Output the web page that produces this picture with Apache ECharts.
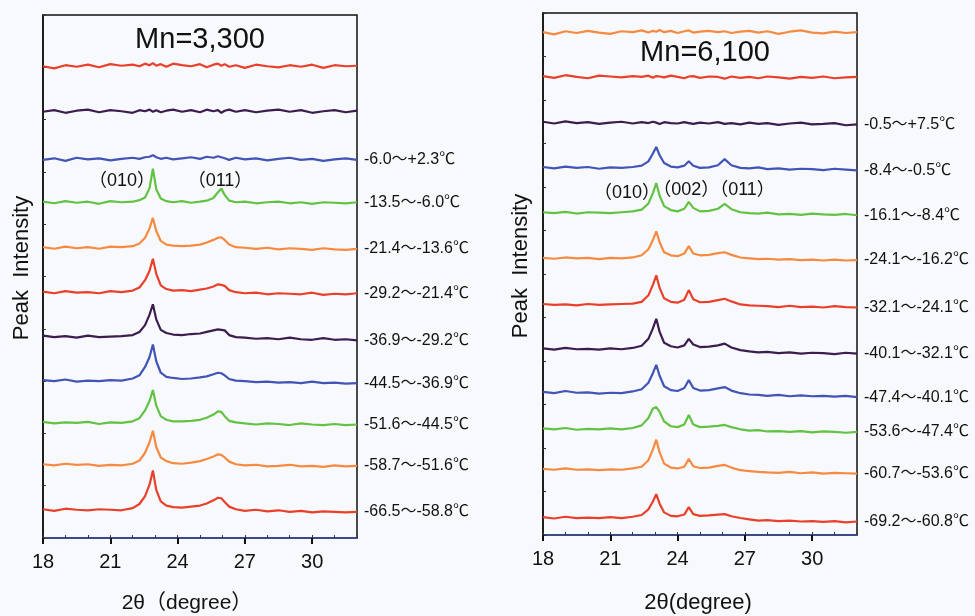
<!DOCTYPE html>
<html>
<head>
<meta charset="utf-8">
<title>Peak Intensity vs 2theta</title>
<script src="https://cdn.jsdelivr.net/npm/echarts@6/dist/echarts.min.js"></script>
<style>
  html, body { margin: 0; padding: 0; background: #f7f9fc; }
  #chart { width: 975px; height: 616px; }
</style>
</head>
<body>
<div id="chart"></div>
<script>
// 2theta sample positions (degree)
var xLeft = [18, 18.5, 19, 19.5, 20, 20.5, 21, 21.5, 22,
  22.3, 22.55, 22.75, 22.9, 23.05, 23.25, 23.5, 23.8,
  24.2, 24.6, 25, 25.3, 25.6, 25.8, 25.95, 26.1, 26.3, 26.6,
  27, 27.5, 28, 28.5, 29, 29.5, 30, 30.5, 31, 31.5, 32];
var xRight = [18, 18.5, 19, 19.5, 20, 20.5, 21, 21.5, 22,
  22.4, 22.7, 22.9, 23.05, 23.2, 23.4, 23.7,
  24.0, 24.3, 24.5, 24.7, 25.0, 25.4,
  25.8, 26.1, 26.4, 26.8,
  27.2, 27.6, 28, 28.5, 29, 29.5, 30, 30.5, 31, 31.5, 32];

var xTicks = [18, 21, 24, 27, 30];

// stacking offsets of each trace (a.u.), top to bottom
var offsetLeft = [90.1, 81.5, 72.3, 64.1, 55.3, 46.7, 38.2, 29.8, 21.8, 13.8, 5.2];
var offsetRight = [115.4, 105.1, 94.5, 84.1, 73.8, 63.4, 52.6, 42.1, 32.2, 23.9, 14.5, 3.4];

var labelLeft = ['', '', '-6.0～+2.3℃', '-13.5～-6.0℃', '-21.4～-13.6℃', '-29.2～-21.4℃',
  '-36.9～-29.2℃', '-44.5～-36.9℃', '-51.6～-44.5℃', '-58.7～-51.6℃', '-66.5～-58.8℃'];
var labelRight = ['', '', '-0.5～+7.5℃', '-8.4～-0.5℃', '-16.1～-8.4℃', '-24.1～-16.2℃',
  '-32.1～-24.1℃', '-40.1～-32.1℃', '-47.4～-40.1℃', '-53.6～-47.4℃', '-60.7～-53.6℃', '-69.2～-60.8℃'];

// Mn=3,300 traces: intensity above baseline
var mn3300_1 = [0.1,-0.3,0.3,0.0,0.4,-0.1,0.5,0.2,0.4, 0.1,0.6,0.3,0.7,0.2,0.5,0.0,0.6, 0.3,0.1,0.5,-0.1,0.4,0.6,0.2,0.5,0.0,0.3, -0.2,0.4,0.1,-0.1,0.3,0.0,0.4,-0.2,0.3,0.1,0.2];
var mn3300_2 = [0.0,0.3,-0.2,0.2,0.4,-0.1,0.3,0.1,-0.2, 0.3,0.1,0.4,0.0,0.3,-0.1,0.2,0.4, 0.0,0.3,-0.1,0.4,0.1,0.3,-0.2,0.2,0.4,0.0, 0.3,-0.1,0.2,0.4,0.0,0.3,-0.2,0.1,0.3,-0.1,0.2];
var mn3300_3 = [0.0,0.3,-0.2,0.4,0.1,0.3,-0.1,0.2,0.4, 0.2,0.5,0.6,0.9,0.5,0.2,0.4,0.1, 0.3,0.5,0.2,0.6,0.4,0.7,0.5,0.3,0.0,0.4, 0.1,0.3,-0.1,0.2,0.4,0.0,0.2,-0.2,0.1,0.3,0.0];
var mn3300_4 = [0.2,-0.1,0.3,0.0,0.2,-0.2,0.3,0.1,0.2, 0.5,1.0,2.8,6.5,2.6,0.8,0.3,0.1, 0.3,0.0,0.2,0.4,0.9,2.0,2.7,1.5,0.4,0.1, 0.2,-0.1,0.1,0.2,-0.1,0.1,-0.2,0.1,0.0,-0.1,0.1];
var mn3300_5 = [0.3,0.0,0.4,0.1,0.3,0.0,0.4,0.3,0.5, 1.0,2.1,3.9,5.9,3.4,1.5,0.8,0.6, 0.5,0.6,0.8,1.2,1.7,2.1,2.2,1.7,0.8,0.3, 0.2,0.0,0.2,-0.1,0.1,0.0,-0.2,0.1,-0.1,-0.2,0.0];
var mn3300_6 = [0.4,0.1,0.5,0.2,0.3,0.1,0.5,0.3,0.6, 1.2,2.6,4.4,6.7,3.8,1.6,0.9,0.6, 0.7,0.5,0.8,1.0,1.4,1.8,1.7,1.5,0.7,0.3, 0.1,0.2,-0.1,0.1,0.0,-0.1,0.2,-0.2,0.0,-0.1,0.1];
var mn3300_7 = [0.5,0.2,0.4,0.1,0.5,0.2,0.3,0.4,0.6, 1.2,2.5,4.5,6.5,3.6,1.6,1.0,0.7, 0.6,0.8,0.9,1.2,1.5,1.7,1.6,1.5,0.6,0.2, 0.1,-0.1,0.0,-0.2,0.1,-0.2,-0.3,0.0,-0.3,-0.2,-0.4];
var mn3300_8 = [0.4,0.2,0.5,0.1,0.3,0.2,0.4,0.3,0.7, 1.3,2.9,4.8,7.2,4.0,1.8,1.0,0.8, 0.6,0.7,0.9,1.1,1.5,1.8,1.7,1.3,0.6,0.3, 0.2,0.0,0.1,-0.1,0.0,-0.2,0.1,-0.2,-0.1,-0.3,-0.2];
var mn3300_9 = [0.4,0.1,0.3,0.2,0.4,0.0,0.3,0.2,0.5, 1.1,2.6,4.4,6.5,3.5,1.5,0.8,0.5, 0.5,0.6,0.8,1.2,1.8,2.4,2.3,1.5,0.6,0.3, 0.1,-0.1,0.1,0.0,-0.2,0.1,-0.1,-0.2,0.0,-0.2,-0.1];
var mn3300_10 = [0.3,0.1,0.4,0.2,0.3,0.0,0.2,0.1,0.4, 1.0,2.5,4.5,6.7,3.6,1.6,0.9,0.5, 0.4,0.6,0.9,1.3,1.8,2.2,2.1,1.6,0.8,0.3, 0.1,0.2,-0.1,0.0,0.2,-0.1,0.0,-0.2,0.1,-0.1,0.0];
var mn3300_11 = [0.3,0.0,0.4,0.2,0.1,0.3,0.2,0.1,0.5, 1.3,2.8,5.0,7.7,4.0,1.8,1.0,0.7, 0.6,0.8,1.0,1.4,2.0,2.5,2.4,1.7,0.8,0.3, 0.0,0.2,-0.1,0.1,-0.2,0.0,-0.3,-0.1,-0.2,-0.3,-0.2];

// Mn=6,100 traces: intensity above baseline
var mn6100_1 = [0.2,-0.3,0.4,0.0,0.5,0.1,-0.2,0.4,0.2, 0.6,0.1,0.5,0.3,0.7,0.2,0.5, 0.0,0.4,0.6,0.1,0.3,0.5, 0.2,0.4,0.0,0.3, 0.5,0.1,0.4,-0.2,0.3,0.6,0.1,-0.1,0.3,0.0,0.2];
var mn6100_2 = [0.4,0.0,0.6,0.2,-0.1,0.5,0.3,0.1,0.4, 0.2,0.5,0.0,0.4,0.3,0.1,0.5, 0.2,-0.1,0.3,0.4,0.0,0.3, 0.2,-0.2,0.3,0.0, 0.2,-0.1,0.3,0.1,-0.2,0.2,0.0,0.3,-0.1,0.1,0.2];
var mn6100_3 = [0.5,0.1,0.6,0.2,0.4,0.0,0.3,0.5,0.1, 0.4,0.2,0.5,0.3,0.0,0.4,0.2, 0.1,0.4,0.2,0.0,0.3,0.1, 0.4,0.0,0.2,-0.1, 0.3,0.0,0.2,-0.2,0.1,0.3,-0.1,0.0,0.2,-0.3,-0.1];
var mn6100_4 = [0.5,0.2,0.6,0.3,0.5,0.1,0.4,0.3,0.5, 0.8,1.8,3.6,5.1,3.2,1.4,0.6, 0.4,0.8,1.8,0.8,0.3,0.4, 0.9,2.3,0.9,0.3, 0.2,0.4,0.0,0.2,-0.1,0.1,0.0,-0.2,0.1,-0.1,-0.3];
var mn6100_5 = [0.4,0.2,0.5,0.1,0.4,0.3,0.2,0.4,0.6, 1.0,2.4,4.8,7.1,4.2,1.8,0.9, 0.6,1.2,2.8,1.4,0.6,0.7, 1.2,2.3,1.1,0.4, 0.2,0.1,0.3,-0.1,0.0,-0.2,0.1,-0.1,-0.2,0.0,-0.3];
var mn6100_6 = [0.3,0.1,0.4,0.2,0.3,0.0,0.3,0.2,0.4, 0.9,2.3,4.4,6.4,3.9,1.6,0.9, 0.7,1.3,3.0,1.3,0.9,1.0, 1.4,1.6,1.0,0.4, 0.2,0.0,0.1,-0.1,0.0,-0.2,-0.1,-0.3,-0.1,-0.3,-0.2];
var mn6100_7 = [0.5,0.3,0.4,0.2,0.5,0.3,0.4,0.5,0.6, 1.0,2.5,4.9,7.1,4.2,1.8,1.0, 0.8,1.5,3.7,1.6,0.9,1.0, 1.4,1.7,1.1,0.4, 0.2,0.1,0.0,-0.2,0.1,-0.2,-0.1,-0.3,0.0,-0.2,-0.3];
var mn6100_8 = [0.8,0.5,0.9,0.6,0.7,0.5,0.8,0.6,0.9, 1.4,3.0,5.4,7.6,4.6,2.1,1.3, 1.0,1.5,3.0,1.7,1.1,1.2, 1.5,1.9,1.0,0.4, 0.1,-0.1,0.0,-0.3,-0.1,-0.4,-0.2,-0.3,-0.5,-0.2,-0.4];
var mn6100_9 = [0.7,0.4,0.9,0.5,0.6,0.3,0.5,0.4,0.8, 1.3,2.8,5.0,6.9,4.4,2.0,1.1, 0.9,1.6,3.4,1.6,1.0,1.1, 1.5,1.8,1.0,0.4, 0.1,0.0,-0.2,0.0,-0.3,-0.1,-0.3,-0.2,-0.4,-0.2,-0.5];
var mn6100_10 = [0.6,0.4,0.7,0.3,0.5,0.4,0.6,0.4,0.7, 1.3,3.0,5.2,5.5,4.4,2.2,1.1, 0.9,1.5,3.7,1.5,0.9,1.0, 1.2,1.4,0.9,0.4, 0.1,0.2,-0.1,0.0,-0.2,0.0,-0.3,-0.1,-0.2,-0.4,-0.2];
var mn6100_11 = [0.7,0.5,0.8,0.5,0.6,0.4,0.6,0.5,0.8, 1.2,2.7,5.2,7.4,4.5,1.9,1.0, 0.8,1.2,3.0,1.3,0.9,1.0, 1.4,1.6,1.0,0.4, 0.2,0.0,-0.1,-0.2,0.0,-0.3,-0.1,-0.4,-0.2,-0.3,-0.4];
var mn6100_12 = [0.7,0.4,0.8,0.5,0.6,0.5,0.7,0.5,0.8, 1.2,2.5,4.3,6.0,3.8,1.8,1.0, 0.9,1.3,3.0,1.4,1.0,1.1, 1.3,1.4,0.9,0.5, 0.2,-0.1,0.0,-0.2,-0.1,-0.3,-0.2,-0.4,-0.2,-0.5,-0.3];

var tracesLeft = [mn3300_1, mn3300_2, mn3300_3, mn3300_4, mn3300_5, mn3300_6,
  mn3300_7, mn3300_8, mn3300_9, mn3300_10, mn3300_11];
var tracesRight = [mn6100_1, mn6100_2, mn6100_3, mn6100_4, mn6100_5, mn6100_6,
  mn6100_7, mn6100_8, mn6100_9, mn6100_10, mn6100_11, mn6100_12];

var RED = '#e8402a', PURPLE = '#3b1d50', BLUE = '#4254b6', GREEN = '#62c244', ORANGE = '#f68a40';
var colorsLeft = [RED, PURPLE, BLUE, GREEN, ORANGE, RED, PURPLE, BLUE, GREEN, ORANGE, RED];
var colorsRight = [ORANGE, RED, PURPLE, BLUE, GREEN, ORANGE, RED, PURPLE, BLUE, GREEN, ORANGE, RED];

var FONT = '"Liberation Sans", Arial, "Noto Sans CJK SC", sans-serif';

function buildSeries(xs, traces, offsets, colors, labels, xIdx, yIdx) {
  return traces.map(function (vals, i) {
    var data = [];
    for (var j = 0; j < xs.length; j++) {
      data.push([xs[j], offsets[i] + vals[j]]);
    }
    return {
      type: 'line',
      xAxisIndex: xIdx,
      yAxisIndex: yIdx,
      data: data,
      symbol: 'none',
      silent: true,
      lineStyle: { color: colors[i], width: 2.2 },
      endLabel: {
        show: labels[i] !== '',
        formatter: labels[i],
        color: '#111',
        fontSize: 16,
        fontFamily: FONT,
        distance: 7
      }
    };
  });
}

function mainX(grid) {
  return {
    type: 'value', gridIndex: grid, min: 18, max: 32, interval: 3,
    position: 'bottom',
    axisLine: { show: true, lineStyle: { color: '#3a4a9e', width: 1.5 } },
    axisTick: { show: true, inside: false, length: 6, lineStyle: { color: '#111', width: 2 } },
    axisLabel: {
      color: '#111', fontSize: 20, fontFamily: FONT, margin: 14, showMaxLabel: false,
      formatter: function (v) { return xTicks.indexOf(v) >= 0 ? String(v) : ''; }
    },
    splitLine: { show: false }
  };
}
function minorX(grid) {
  return {
    type: 'value', gridIndex: grid, min: 18, max: 32, interval: 1,
    position: 'bottom',
    axisLine: { show: false },
    axisTick: { show: true, inside: true, length: 3, lineStyle: { color: '#333', width: 1 } },
    axisLabel: { show: false },
    splitLine: { show: false }
  };
}
function sideY(grid, max) {
  return {
    type: 'value', gridIndex: grid, min: 0, max: max, interval: 10,
    axisLine: { show: true, lineStyle: { color: '#111', width: 1.5 } },
    axisTick: { show: true, inside: true, length: 3, lineStyle: { color: '#333' } },
    axisLabel: { show: false },
    splitLine: { show: false }
  };
}

function text(x, y, str, size, rot) {
  return {
    type: 'text', x: x, y: y, rotation: rot || 0, silent: true,
    style: {
      text: str, fill: '#111', fontSize: size, fontFamily: FONT,
      align: 'center', verticalAlign: 'middle'
    }
  };
}

var chart = echarts.init(document.getElementById('chart'));
var option = {
  backgroundColor: '#f7f9fc',
  animation: false,
  grid: [
    { left: 43, top: 15, width: 314, height: 523, show: true, borderColor: '#111', borderWidth: 1.5 },
    { left: 543, top: 13, width: 314, height: 522, show: true, borderColor: '#111', borderWidth: 1.5 }
  ],
  xAxis: [mainX(0), minorX(0), mainX(1), minorX(1)],
  yAxis: [sideY(0, 100), sideY(1, 120)],
  series: buildSeries(xLeft, tracesLeft, offsetLeft, colorsLeft, labelLeft, 0, 0)
    .concat(buildSeries(xRight, tracesRight, offsetRight, colorsRight, labelRight, 2, 1)),
  graphic: [
    text(200, 40, 'Mn=3,300', 29),
    text(705, 53, 'Mn=6,100', 29),
    text(122, 181, '（010）', 18),
    text(220, 181, '（011）', 18),
    text(627, 193, '（010）', 18),
    text(714, 190, '（002）（011）', 18),
    text(187, 603, '2θ（degree）', 21),
    text(698, 603, '2θ(degree)', 22),
    text(22, 268, 'Peak  Intensity', 22, Math.PI / 2),
    text(521, 266, 'Peak  Intensity', 22, Math.PI / 2)
  ]
};
chart.setOption(option);
</script>
</body>
</html>
